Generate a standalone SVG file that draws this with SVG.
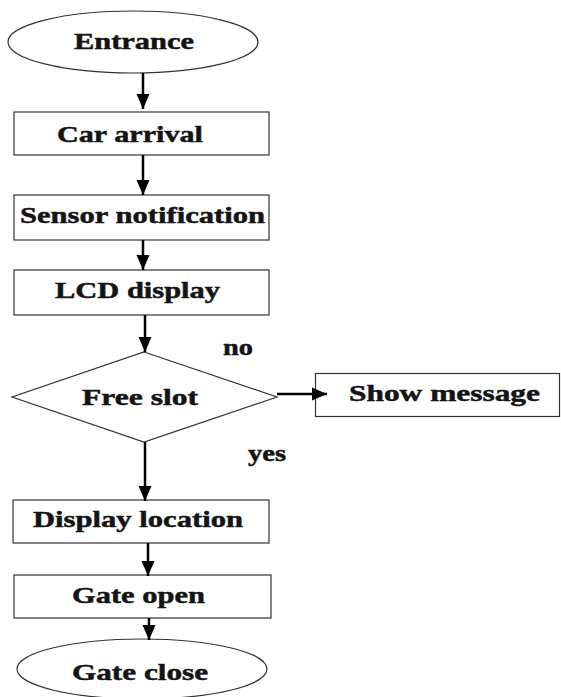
<svg xmlns="http://www.w3.org/2000/svg" width="561" height="697" viewBox="0 0 561 697">
<style>
.s{fill:#fff;stroke:#333;stroke-width:1.2}
.t{font-family:"Liberation Serif","Times New Roman",serif;font-weight:bold;font-size:24px;fill:#141414;stroke:#141414;stroke-width:0.5;text-anchor:start}
.c{stroke:#000;stroke-width:2.5;fill:none}
</style>
<defs>
<marker id="ah" markerWidth="6" markerHeight="6" refX="6" refY="3" orient="auto" markerUnits="strokeWidth"><path d="M0,0.4 L6,3 L0,5.6 z" fill="#000"/></marker>
</defs>
<rect width="561" height="697" fill="#fff"/>
<g id="entrance"><ellipse class="s" cx="133" cy="42" rx="125" ry="31"/><text class="t" x="74" y="49" textLength="120" lengthAdjust="spacingAndGlyphs">Entrance</text></g>
<g id="car-arrival"><rect class="s" x="14" y="112" width="255" height="43"/><text class="t" x="57" y="142" textLength="146" lengthAdjust="spacingAndGlyphs">Car arrival</text></g>
<g id="sensor-notification"><rect class="s" x="14" y="195" width="255" height="45"/><text class="t" x="20" y="223" textLength="245" lengthAdjust="spacingAndGlyphs">Sensor notification</text></g>
<g id="lcd-display"><rect class="s" x="14" y="270" width="255" height="45"/><text class="t" x="55" y="298" textLength="165" lengthAdjust="spacingAndGlyphs">LCD display</text></g>
<g id="free-slot"><polygon class="s" points="144,352 277,397 144,442 12,397"/><text class="t" x="82" y="405" textLength="116" lengthAdjust="spacingAndGlyphs">Free slot</text></g>
<g id="show-message"><rect class="s" x="315.5" y="373.5" width="244" height="43"/><text class="t" x="349" y="401" textLength="191" lengthAdjust="spacingAndGlyphs">Show message</text></g>
<g id="label-no"><text class="t" x="223" y="355" textLength="30" lengthAdjust="spacingAndGlyphs">no</text></g>
<g id="label-yes"><text class="t" x="248" y="461" textLength="38" lengthAdjust="spacingAndGlyphs">yes</text></g>
<g id="display-location"><rect class="s" x="13" y="500" width="256" height="43"/><text class="t" x="33" y="527" textLength="210" lengthAdjust="spacingAndGlyphs">Display location</text></g>
<g id="gate-open"><rect class="s" x="14" y="575" width="257" height="43"/><text class="t" x="72" y="603" textLength="133" lengthAdjust="spacingAndGlyphs">Gate open</text></g>
<g id="gate-close"><ellipse class="s" cx="142" cy="669" rx="125" ry="30"/><text class="t" x="72" y="680" textLength="136" lengthAdjust="spacingAndGlyphs">Gate close</text></g>
<g id="connectors">
<line class="c" x1="143" y1="73" x2="143" y2="109" marker-end="url(#ah)"/>
<line class="c" x1="143" y1="155" x2="143" y2="195" marker-end="url(#ah)"/>
<line class="c" x1="143" y1="240" x2="143" y2="270" marker-end="url(#ah)"/>
<line class="c" x1="145" y1="315" x2="145" y2="352" marker-end="url(#ah)"/>
<line class="c" x1="277" y1="394" x2="327" y2="394" marker-end="url(#ah)"/>
<line class="c" x1="145" y1="442" x2="145" y2="501" marker-end="url(#ah)"/>
<line class="c" x1="148" y1="543" x2="148" y2="576" marker-end="url(#ah)"/>
<line class="c" x1="149" y1="618" x2="149" y2="640" marker-end="url(#ah)"/>
</g>
</svg>
